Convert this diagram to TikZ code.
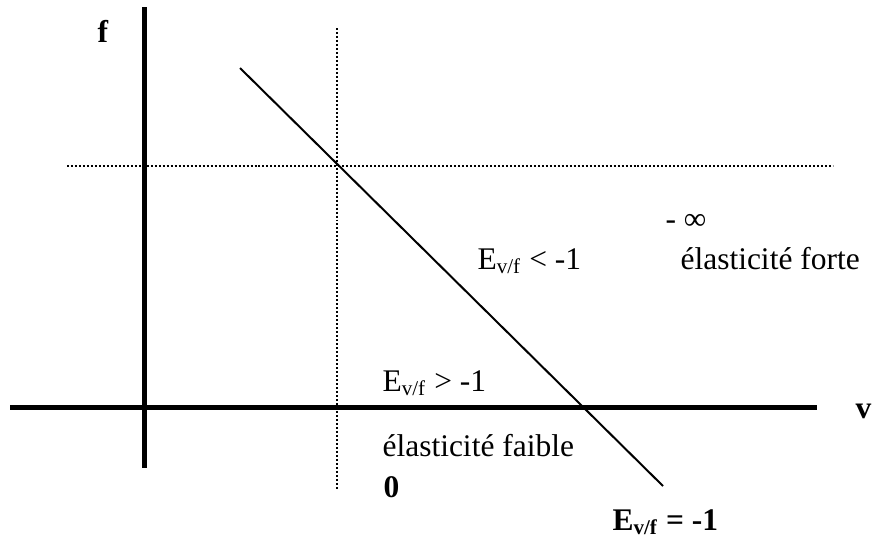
\documentclass[tikz,border=0pt,12pt]{standalone}
\usepackage{fontspec}
\setmainfont{Liberation Serif}
\usetikzlibrary{positioning}
\tikzstyle{axis}   = [line width=2.1pt]
\tikzstyle{guide}  = [line width=0.76pt, dash pattern=on 0.76pt off 0.76pt]
\tikzstyle{demand} = [line width=0.76pt]
\tikzstyle{lbl}    = [inner sep=0pt, anchor=base west]

\begin{document}
\begin{tikzpicture}[x=0.381pt, y=-0.381pt]
    \useasboundingbox (0,0) rectangle (874,543);

    % axes
    \coordinate (ytop)  at (144.5, 7);
    \coordinate (ybot)  at (144.5, 468);
    \coordinate (xleft) at (10, 407.5);
    \coordinate (xright) at (817, 407.5);
    \draw [axis] (ytop) -- (ybot);
    \draw [axis] (xleft) -- (xright);

    % dotted guides
    \coordinate (gtop)   at (337, 28);
    \coordinate (gbot)   at (337, 490);
    \coordinate (gleft)  at (67, 166);
    \coordinate (gright) at (833, 166);
    \draw [guide] (gtop) -- (gbot);
    \draw [guide] (gleft) -- (gright);

    % demand line
    \coordinate (dstart) at (240, 68);
    \coordinate (dend)   at (663, 486);
    \draw [demand] (dstart) -- (dend);

    % texts
    \node (fname)  at (97, 42)   [lbl, font=\bfseries] {f};
    \node (vname)  at (855, 418) [lbl, font=\bfseries] {v};
    \node (infty)  at (665, 229) [lbl] {- ∞};
    \node (eless)  at (477, 269) [lbl] {E\textsubscript{v/f} < -1};
    \node (strong) at (680, 269) [lbl] {élasticité forte};
    \node (emore)  at (382, 391) [lbl] {E\textsubscript{v/f} > -1};
    \node (weak)   at (382, 456) [lbl] {élasticité faible};
    \node (zero)   at (383, 497) [lbl, font=\bfseries] {0};
    \node (eunit)  at (612, 530) [lbl, font=\bfseries] {E\textsubscript{v/f} = -1};
\end{tikzpicture}
\end{document}
